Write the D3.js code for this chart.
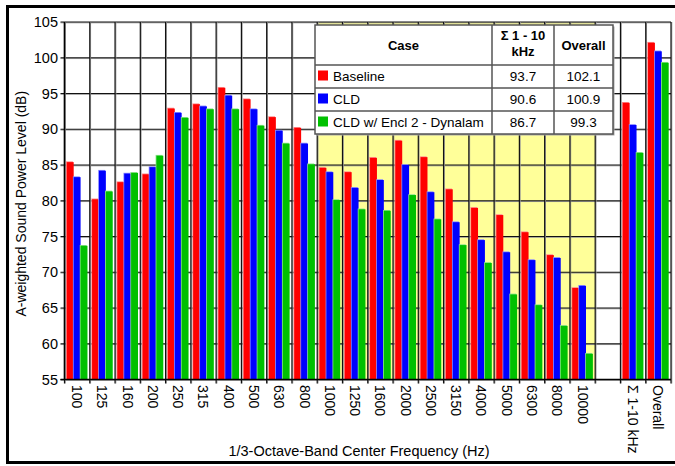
<!DOCTYPE html>
<html><head><meta charset="utf-8">
<script src="https://cdn.jsdelivr.net/npm/d3@7"></script>
<style>html,body{margin:0;padding:0;background:#fff;}svg{display:block;font-family:"Liberation Sans",Arial,sans-serif;}</style>
</head><body>
<svg id="c" width="675" height="466"></svg>
<script>
const categories = ["100","125","160","200","250","315","400","500","630","800","1000","1250","1600","2000","2500","3150","4000","5000","6300","8000","10000","","Σ 1-10 kHz","Overall"];
const seriesNames = ["Baseline","CLD","CLD w/ Encl 2 - Dynalam"];
const baseline = [85.4,80.2,82.6,83.7,92.9,93.5,95.8,94.2,91.7,90.2,84.6,84.0,86.0,88.4,86.1,81.6,79.0,78.0,75.6,72.4,67.8,null,93.7,102.1];
const cld      = [83.3,84.2,83.8,84.7,92.3,93.2,94.7,92.8,89.8,88.0,84.0,81.8,82.9,85.0,81.2,77.0,74.5,72.8,71.7,72.0,68.1,null,90.6,100.9];
const encl     = [73.7,81.3,83.9,86.3,91.6,92.8,92.8,90.5,88.0,85.1,80.1,78.8,78.6,80.8,77.4,73.8,71.3,66.9,65.4,62.5,58.6,null,86.7,99.3];
const colors = ["#ff0000","#0000ff","#00c000"];
const yTicks = [55,60,65,70,75,80,85,90,95,100,105];
const highlightFrom = "1000", highlightTo = "10000";

const svg = d3.select("#c");
const keys = categories.map((c,i)=>"k"+i);
const values = [baseline, cld, encl];
const L=64.5, R=671, T=22, B=379.5;
const x = d3.scaleBand().domain(keys).range([L,R]).padding(0);
const y = d3.scaleLinear().domain([55,105]).range([B,T]);
const bw = x.bandwidth();
const xs = d3.scaleBand().domain(seriesNames).range([2.3,bw-2.3]).padding(0);

// outer frame
svg.append("rect").attr("x",7.5).attr("y",6.5).attr("width",680).attr("height",456)
  .attr("fill","none").attr("stroke","#000").attr("stroke-width",3);

// highlight band
const hi0 = x(keys[categories.indexOf(highlightFrom)]);
const hi1 = x(keys[categories.indexOf(highlightTo)])+bw;
svg.append("rect").attr("x",hi0).attr("y",T).attr("width",hi1-hi0).attr("height",B-T).attr("fill","#ffff99");

// grid
const g = svg.append("g");
yTicks.forEach(t=>{
  g.append("line").attr("x1",L-4).attr("x2",R).attr("y1",y(t)+0.8).attr("y2",y(t)+0.8).attr("stroke","#999").attr("stroke-width",1);
  g.append("line").attr("x1",L-4).attr("x2",R).attr("y1",y(t)).attr("y2",y(t)).attr("stroke","#111").attr("stroke-width",1.2);
});
keys.concat(["end"]).forEach((k,i)=>{
  const xx = i<keys.length ? x(k) : R;
  g.append("line").attr("x1",xx+0.8).attr("x2",xx+0.8).attr("y1",T).attr("y2",B+4).attr("stroke","#999").attr("stroke-width",1);
  g.append("line").attr("x1",xx).attr("x2",xx).attr("y1",T).attr("y2",B+4).attr("stroke","#111").attr("stroke-width",1.2);
});

// bars (with a light edge like the reference)
values.forEach((arr,si)=>{
  const lite = d3.interpolateRgb(colors[si],"#fff")(0.55);
  const data = arr.map((v,i)=>({v,i})).filter(d=>d.v!=null);
  const gb = svg.append("g");
  gb.selectAll("rect.e").data(data).join("rect").attr("class","e")
    .attr("x",d=>x(keys[d.i])+xs(seriesNames[si])-0.8)
    .attr("y",d=>y(d.v)-0.8)
    .attr("width",xs.bandwidth())
    .attr("height",d=>B-y(d.v)+0.8)
    .attr("fill",lite);
  gb.selectAll("rect.b").data(data).join("rect").attr("class","b")
    .attr("x",d=>x(keys[d.i])+xs(seriesNames[si]))
    .attr("y",d=>y(d.v))
    .attr("width",xs.bandwidth())
    .attr("height",d=>B-y(d.v))
    .attr("fill",colors[si]);
});

// axes lines
svg.append("line").attr("x1",L).attr("x2",L).attr("y1",T).attr("y2",B).attr("stroke","#000").attr("stroke-width",1.5);
svg.append("line").attr("x1",L-4).attr("x2",R).attr("y1",B).attr("y2",B).attr("stroke","#000").attr("stroke-width",1.5);

// y tick labels
svg.append("g").selectAll("text").data(yTicks).join("text")
  .attr("x",58).attr("y",d=>y(d)).attr("dy","0.36em").attr("text-anchor","end")
  .attr("font-size",14.5).attr("fill","#000").text(d=>d);

// x tick labels
svg.append("g").selectAll("text").data(categories.map((c,i)=>({c,i}))).join("text")
  .attr("transform",d=>`translate(${x(keys[d.i])+bw/2},385) rotate(90)`)
  .attr("dy","0.36em").attr("font-size",14).attr("fill","#000").text(d=>d.c);

// axis titles
svg.append("text").attr("transform",`translate(26,${(T+B)/2+3}) rotate(-90)`).attr("text-anchor","middle")
  .attr("font-size",14).text("A-weighted Sound Power Level (dB)");
svg.append("text").attr("x",359).attr("y",456).attr("text-anchor","middle")
  .attr("font-size",14.5).text("1/3-Octave-Band Center Frequency (Hz)");

// legend table
const tx0=315, tc1=492, tc2=554, tx1=613;
const ty=[25,65,88,111,134];
const tg = svg.append("g");
tg.append("rect").attr("x",tx0+1.5).attr("y",ty[0]+1.5).attr("width",tx1-tx0).attr("height",ty[4]-ty[0]).attr("fill","#aaa");
tg.append("rect").attr("x",tx0).attr("y",ty[0]).attr("width",tx1-tx0).attr("height",ty[4]-ty[0]).attr("fill","#fff").attr("stroke","#555").attr("stroke-width",1.5);
[tc1,tc2].forEach(c=>tg.append("line").attr("x1",c).attr("x2",c).attr("y1",ty[0]).attr("y2",ty[4]).attr("stroke","#555").attr("stroke-width",1.5));
ty.slice(1,4).forEach(r=>tg.append("line").attr("x1",tx0).attr("x2",tx1).attr("y1",r).attr("y2",r).attr("stroke","#555").attr("stroke-width",1.5));
tg.append("text").attr("x",(tx0+tc1)/2).attr("y",(ty[0]+ty[1])/2).attr("dy","0.36em").attr("text-anchor","middle").attr("font-size",13).attr("font-weight","bold").text("Case");
tg.append("text").attr("x",(tc1+tc2)/2).attr("y",40).attr("text-anchor","middle").attr("font-size",13).attr("font-weight","bold").text("Σ 1 - 10");
tg.append("text").attr("x",(tc1+tc2)/2).attr("y",56).attr("text-anchor","middle").attr("font-size",13).attr("font-weight","bold").text("kHz");
tg.append("text").attr("x",(tc2+tx1)/2).attr("y",(ty[0]+ty[1])/2).attr("dy","0.36em").attr("text-anchor","middle").attr("font-size",13).attr("font-weight","bold").text("Overall");
const iSum = categories.indexOf("Σ 1-10 kHz"), iAll = categories.indexOf("Overall");
seriesNames.forEach((n,si)=>{
  const cy=(ty[si+1]+ty[si+2])/2;
  tg.append("rect").attr("x",318).attr("y",cy-6).attr("width",10).attr("height",10).attr("fill",colors[si]);
  tg.append("text").attr("x",333).attr("y",cy).attr("dy","0.36em").attr("font-size",13.5).text(n);
  tg.append("text").attr("x",(tc1+tc2)/2).attr("y",cy).attr("dy","0.36em").attr("text-anchor","middle").attr("font-size",13.5).text(values[si][iSum].toFixed(1));
  tg.append("text").attr("x",(tc2+tx1)/2).attr("y",cy).attr("dy","0.36em").attr("text-anchor","middle").attr("font-size",13.5).text(values[si][iAll].toFixed(1));
});
</script>
</body></html>
